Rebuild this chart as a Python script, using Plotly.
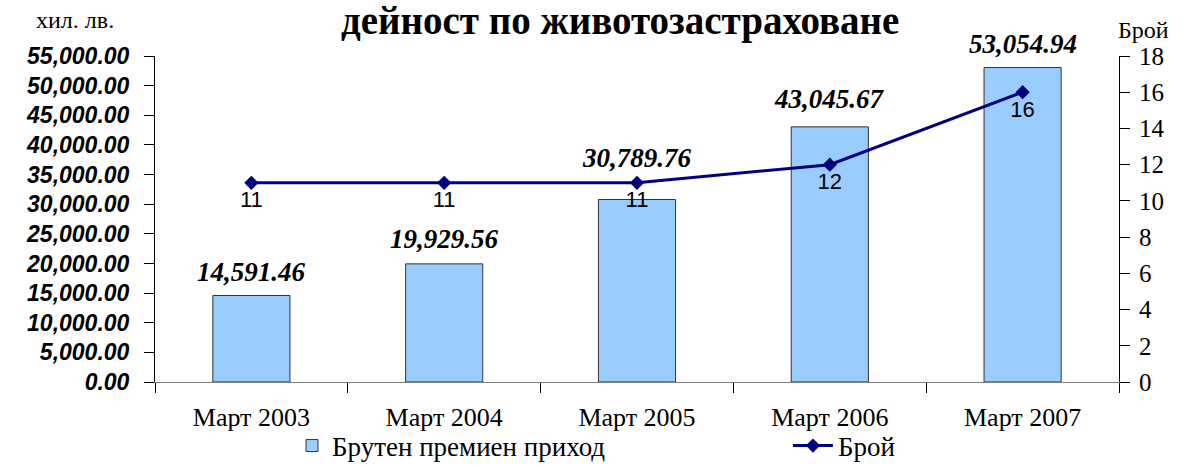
import plotly.graph_objects as go

categories = ["Март 2003", "Март 2004", "Март 2005", "Март 2006", "Март 2007"]
premium = [14591.46, 19929.56, 30789.76, 43045.67, 53054.94]
count = [11, 11, 11, 12, 16]
left_ticks = [0, 5000, 10000, 15000, 20000, 25000, 30000, 35000, 40000, 45000, 50000, 55000]
right_ticks = [0, 2, 4, 6, 8, 10, 12, 14, 16, 18]
# vertical gap (px) between bar top and its value label
label_gap = [7, 8, 25, 11, 7]

W, H = 1188, 466
ml, mr, mt, mb = 155, 69, 56, 84
PW, PH = W - ml - mr, H - mt - mb


def px_x(x):
    return (x - ml) / PW


def px_y(y):
    return (H - mb - y) / PH


fig = go.Figure()
fig.add_trace(go.Bar(
    x=categories, y=premium, name="Брутен премиен приход",
    marker=dict(color="#99CCFF", line=dict(color="#333333", width=1)),
    width=0.4, yaxis="y", legend="legend",
))
fig.add_trace(go.Scatter(
    x=categories, y=count, name="Брой", yaxis="y2", legend="legend2",
    mode="lines+markers+text",
    line=dict(color="#000080", width=3),
    marker=dict(symbol="diamond", size=11, color="#000080"),
    text=[str(v) for v in count], textposition="bottom center",
    textfont=dict(family="Liberation Sans", size=22, color="black"),
    cliponaxis=False,
))

annotations = []
for c, v, g in zip(categories, premium, label_gap):
    annotations.append(dict(
        x=c, y=v, xref="x", yref="y", text=f"{v:,.2f}", showarrow=False,
        xanchor="center", yanchor="bottom", yshift=g,
        font=dict(family="Liberation Serif", size=27, color="black", weight="bold", style="italic"),
    ))
annotations += [
    dict(text="хил. лв.", xref="paper", yref="paper", x=px_x(75), y=px_y(20),
         xanchor="center", yanchor="middle", showarrow=False,
         font=dict(family="Liberation Serif", size=24, color="black")),
    dict(text="Брой", xref="paper", yref="paper", x=px_x(1143), y=px_y(30),
         xanchor="center", yanchor="middle", showarrow=False,
         font=dict(family="Liberation Serif", size=24, color="black")),
]

legend_font = dict(family="Liberation Serif", size=27, color="black")

fig.update_layout(
    width=W, height=H,
    font=dict(family="Liberation Serif", color="black"),
    margin=dict(l=ml, r=mr, t=mt, b=mb, autoexpand=False),
    paper_bgcolor="white", plot_bgcolor="white",
    showlegend=True,
    legend=dict(orientation="h", x=px_x(292), xanchor="left", y=px_y(446), yanchor="middle",
                font=legend_font, itemwidth=30, bgcolor="rgba(0,0,0,0)"),
    legend2=dict(orientation="h", x=px_x(788), xanchor="left", y=px_y(446), yanchor="middle",
                 font=legend_font, itemwidth=40, bgcolor="rgba(0,0,0,0)"),
    title=dict(text="<b>дейност по животозастраховане</b>", x=0.522, xanchor="center",
               y=0.957, yanchor="middle", xref="container", yref="container",
               font=dict(family="Liberation Serif", size=39, color="black")),
    xaxis=dict(type="category", tickmode="array", tickvals=categories, tickson="boundaries",
               ticks="outside", ticklen=10,
               tickcolor="black", showline=True, linecolor="#808080", linewidth=1,
               showgrid=False, ticklabelstandoff=12, automargin=False,
               tickfont=dict(family="Liberation Serif", size=26, color="black")),
    yaxis=dict(range=[0, 55000], tickvals=left_ticks, tickformat=",.2f",
               showline=True, linecolor="black", linewidth=1, ticks="outside", ticklen=10,
               tickcolor="black", showgrid=False, zeroline=False, ticklabelstandoff=10,
               automargin=False,
               tickfont=dict(family="Liberation Sans", size=23, color="black", weight="bold", style="italic")),
    yaxis2=dict(range=[0, 18], tickvals=right_ticks, overlaying="y", side="right",
                showline=True, linecolor="black", linewidth=1, ticks="outside", ticklen=10,
                tickcolor="black", showgrid=False, zeroline=False, ticklabelstandoff=4,
                automargin=False,
                tickfont=dict(family="Liberation Serif", size=25, color="black")),
    annotations=annotations,
)

fig.write_html("out.html", config={"displayModeBar": False},
               post_script="document.body.style.margin='0';")
